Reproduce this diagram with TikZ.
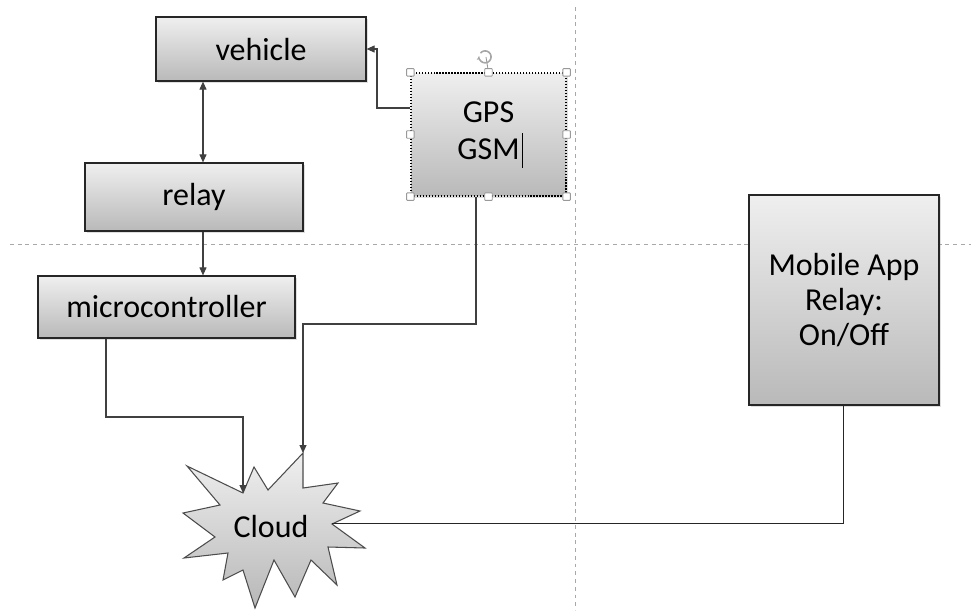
\documentclass[tikz,border=0pt]{standalone}
\usepackage{fontspec}
\setmainfont{Carlito}
\usepackage{tikz}
\usetikzlibrary{arrows.meta,positioning,shadows}
\definecolor{boxtop}{HTML}{EFEFEF}
\definecolor{boxbot}{HTML}{B9B9B9}
\definecolor{linegray}{HTML}{404040}
\definecolor{guidegray}{HTML}{A8A8A8}

\begin{document}
\begin{tikzpicture}[x=0.02cm,y=-0.02cm,
  block/.style={draw=black!85,line width=0.7pt,top color=boxtop,bottom color=boxbot,
    align=center,inner sep=0pt,font=\fontsize{18.2}{20}\selectfont,
    drop shadow={shadow xshift=0.035cm,shadow yshift=-0.035cm,opacity=0.25}},
  link/.style={draw=linegray,line width=0.6pt},
  arr/.style={link,-{Triangle[length=1.6mm,width=1.4mm]}},
  guide/.style={draw=guidegray,line width=0.5pt,dash pattern=on 2.2pt off 2.2pt},
  grip/.style={draw=black!40,fill=white,line width=0.5pt,minimum size=0.15cm,inner sep=0pt,rounded corners=0.4pt}]
\useasboundingbox (0,0) rectangle (971,610);

% ---- the two guides, behind everything ---------------------------------
\draw[guide] (10,244) -- (971,244);
\draw[guide] (575,7) -- (575,610);

% ---- left column ---------------------------------------------------------
\node[block,minimum width=4.2cm,minimum height=1.28cm]  (vehicle) at (261,49)    {vehicle};
\node[block,minimum width=4.36cm,minimum height=1.36cm] (relay)   at (194,197)   {relay};
\node[block,minimum width=5.14cm,minimum height=1.24cm] (micro)   at (166.5,307) {microcontroller};
% ---- gps box, still selected ---------------------------------------------
\node[block,draw=black,densely dotted,minimum width=3.1cm,minimum height=2.46cm] (gps) at (488.5,134.5)
  {GPS\\[1.5pt]GSM\makebox[0pt][l]{\hspace{1.2pt}\rule[-0.25em]{0.5pt}{1.1em}}};
% ---- phone side ----------------------------------------------------------
\node[block,minimum width=3.8cm,minimum height=4.2cm] (app) at (844,300)
  {Mobile App\\Relay:\\On/Off};

% ---- the cloud -----------------------------------------------------------
\draw[draw=black!70,line width=0.6pt,top color=black!6,bottom color=black!28]
  (187,466) -- (243,493) -- (254,467) -- (268,490) -- (303,453) -- (303,488)
  -- (338,483) -- (323,503) -- (360,511) -- (332,524) -- (365,548) -- (328,547)
  -- (337,585) -- (311,560) -- (295,597) -- (274,560) -- (255,608) -- (243,570)
  -- (223,580) -- (228,553) -- (184,558) -- (215,537) -- (183,513) -- (220,505) -- cycle;
\node[font=\fontsize{18.2}{20}\selectfont] (cloud) at (271,527) {Cloud};
\coordinate (cloudtop) at (303,453);
\coordinate (cloudnotch) at (243,493);
\coordinate (cloudside) at (332,523);

% ---- connectors ----------------------------------------------------------
\coordinate (vr) at (203,0);
\coordinate (g1) at (377,108);
\coordinate (m1) at (106,417);
\coordinate (m2) at (243,417);
\coordinate (g2) at (476,324);
\coordinate (g3) at (303,324);
\draw[link,{Triangle[length=1.6mm,width=1.4mm]}-{Triangle[length=1.6mm,width=1.4mm]}]
  (vehicle.south -| vr) -- (relay.north -| vr);
\draw[arr] (relay.south -| vr) -- (micro.north -| vr);
\draw[arr] (gps.west |- g1) -- (g1) |- (vehicle.east);
\draw[arr] (micro.south -| m1) -- (m1) -- (m2) -- (cloudnotch);
\draw[arr] (gps.south -| g2) -- (g2) -- (g3) -- (cloudtop);
\draw[draw=black!85,line width=0.5pt] (app.south -| 843,0) |- (cloudside);

% ---- selection handles ---------------------------------------------------
\draw[draw=black!40,line width=0.5pt] (gps.north) -- (486,57);
\draw[draw=black!35,line width=0.9pt,-{Stealth[length=0.9mm]}] (480.5,53) arc[start angle=-140,end angle=190,radius=6];
\foreach \a [count=\i] in {north west,north,north east,east,south east,south,south west,west}
  \node[grip] (grip\i) at (gps.\a) {};
\end{tikzpicture}
\end{document}
